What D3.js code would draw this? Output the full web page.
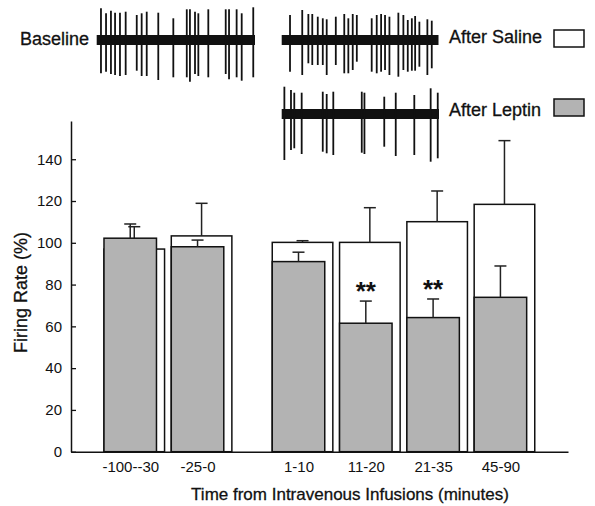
<!DOCTYPE html>
<html><head><meta charset="utf-8">
<script src="https://cdn.jsdelivr.net/npm/d3@7"></script>
<style>
body{margin:0;background:#fff}
svg{display:block}
text{font-family:"Liberation Sans",Arial,Helvetica,sans-serif;fill:#111}
.heavy{stroke:#111;stroke-width:0.3px}
</style>
</head><body>
<svg id="c" width="595" height="506"></svg>
<script>
// ---- data ----
const categories = ["-100--30", "-25-0", "1-10", "11-20", "21-35", "45-90"];
const salineMean = [97.0, 103.3, 100.2, 100.2, 110.1, 118.4];
const salineSem  = [10.7, 15.6, 0.8, 16.6, 14.7, 30.5];
const leptinMean = [102.2, 98.1, 91.0, 61.5, 64.2, 73.9];
const leptinSem  = [6.8, 3.2, 4.5, 10.6, 8.9, 15.0];
const significance = ["", "", "", "**", "**", ""];
const yTicks = [0, 20, 40, 60, 80, 100, 120, 140];

// spike trains: [time (0-100), up amplitude, down amplitude]
const baselineSpikes = [
  [2.7,31.7,33.3],[5.9,26.7,31.7],[9.0,29.3,34],[11.6,27.3,35],[14.7,27.3,36],[18.3,28.3,35],
  [25.3,25,30.7],[28.4,26.7,36],[31.6,28.3,36],[38.9,27.3,40],[48.4,21.7,37.3],[56.9,30.7,37.3],
  [58.9,30.7,41.7],[62.1,28.3,34],[64.2,26.7,36],[70.5,30.7,37.3],[81.5,30.7,34],[83.6,30.7,39.3],
  [88.4,30.7,37.3],[91.6,26.7,40.7],[98.9,32.7,37.3]
];
const salineSpikes = [
  [5.3,25,31.7],[13.1,30,35],[17.0,26,23.3],[19.5,26,25],[23.0,23.3,25],[26.2,21.7,25],
  [28.7,20.7,35],[34.5,23.3,25],[39.9,26,33.3],[42.5,21.7,33.3],[45.3,26,30],[47.9,25,21.7],
  [57.4,21.7,31.7],[60.6,25,33.3],[63.4,26,31.7],[65.9,25,30],[68.7,23.3,35],[74.4,27.3,36.7],
  [77.6,25,30],[80.4,20,31.7],[83.0,21.7,30.7],[85.1,24,30.7],[87.8,18.3,26.7],[92.9,20.7,35],
  [95.7,19.3,28.3]
];
const leptinSpikes = [
  [1.7,27.3,46],[5.9,24,36],[8.0,21.3,34.3],[12.7,21.3,40],[26.1,22.3,37.7],[28.6,20,39.3],
  [32.8,22.3,41],[50.9,22.3,38.7],[52.6,21.3,40],[65.2,17.3,32.7],[72.5,21.3,42],[84.3,19,41],
  [94.7,25.7,47.7],[99.2,21.3,44.3]
];

// ---- drawing ----
const svg = d3.select("#c");
const GRAY = "#b3b3b3";
const slot = i => i + (i >= 2 ? 0.5 : 0);
const x = d3.scaleLinear().domain([-0.49, 6.894]).range([71, 568]);
const y = d3.scaleLinear().domain([0, 158.3]).range([451.7, 121]);
const grayW = 0.78, whiteW = 0.9, capHalf = 6;

const rows = categories.map((c, i) => ({
  c, i, s: slot(i),
  sal: salineMean[i], salE: salineSem[i],
  lep: leptinMean[i], lepE: leptinSem[i],
  sig: significance[i]
}));

const plot = svg.append("g");

// saline bars (behind)
plot.selectAll("rect.sal").data(rows).join("rect")
  .attr("x", d => x(d.s)).attr("width", d => x(d.s + whiteW) - x(d.s))
  .attr("y", d => y(d.sal)).attr("height", d => y(0) - y(d.sal))
  .attr("fill", "#fff").attr("stroke", "#111").attr("stroke-width", 1.5);

function errBars(sel, cls, cx, top, val) {
  const g = sel.selectAll("g." + cls).data(rows).join("g").attr("class", cls);
  g.append("line").attr("x1", cx).attr("x2", cx).attr("y1", d => y(val(d))).attr("y2", d => y(top(d)))
    .attr("stroke", "#222").attr("stroke-width", 1.5);
  g.append("line").attr("x1", d => cx(d) - capHalf).attr("x2", d => cx(d) + capHalf)
    .attr("y1", d => y(top(d))).attr("y2", d => y(top(d)))
    .attr("stroke", "#222").attr("stroke-width", 1.5);
}
errBars(plot, "salErr", d => x(d.s + whiteW / 2), d => d.sal + d.salE, d => d.sal);

// leptin bars (front)
plot.selectAll("rect.lep").data(rows).join("rect")
  .attr("x", d => x(d.s)).attr("width", d => x(d.s + grayW) - x(d.s))
  .attr("y", d => y(d.lep)).attr("height", d => y(0) - y(d.lep))
  .attr("fill", GRAY).attr("stroke", "#111").attr("stroke-width", 1.5);
errBars(plot, "lepErr", d => x(d.s + grayW / 2), d => d.lep + d.lepE, d => d.lep);

// significance stars
plot.selectAll("text.sig").data(rows.filter(d => d.sig)).join("text")
  .attr("x", d => x(d.s + grayW / 2)).attr("y", d => y(d.lep + d.lepE) - 1)
  .attr("text-anchor", "middle").attr("font-size", 26).attr("font-weight", "bold")
  .text(d => d.sig);

// axes
const yAxis = svg.append("g").attr("transform", `translate(${x(-0.49)},0)`)
  .call(d3.axisLeft(y).tickValues(yTicks).tickSizeInner(-5).tickSizeOuter(0).tickPadding(9));
const xAxis = svg.append("g").attr("transform", `translate(0,${y(0)})`)
  .call(d3.axisBottom(x).tickValues(rows.map(d => d.s + grayW / 2))
    .tickFormat((v, k) => categories[k]).tickSize(0).tickPadding(10));
[yAxis, xAxis].forEach(a => {
  a.select(".domain").attr("stroke", "#111").attr("stroke-width", 1.5);
  a.selectAll(".tick line").attr("stroke", "#111").attr("stroke-width", 1.3);
  a.selectAll("text").attr("font-size", 15).attr("fill", "#1a1a1a")
    .attr("font-family", "'Liberation Sans',Arial,sans-serif");
});

svg.append("text").attr("class", "heavy").attr("x", 350).attr("y", 500).attr("text-anchor", "middle")
  .attr("font-size", 17).text("Time from Intravenous Infusions (minutes)");
svg.append("text").attr("class", "heavy").attr("transform", "translate(27,292.5) rotate(-90)")
  .attr("text-anchor", "middle").attr("font-size", 18).text("Firing Rate (%)");

// spike traces
function trace(spikes, x0, x1, cy) {
  const t = d3.scaleLinear().domain([0, 100]).range([x0, x1]);
  const g = svg.append("g");
  g.append("rect").attr("x", t(0)).attr("width", t(100) - t(0))
    .attr("y", cy - 5).attr("height", 10).attr("fill", "#111");
  g.selectAll("line").data(spikes).join("line")
    .attr("x1", d => t(d[0])).attr("x2", d => t(d[0]))
    .attr("y1", d => cy - d[1]).attr("y2", d => cy + d[2])
    .attr("stroke", "#111").attr("stroke-width", 1.8);
}
trace(baselineSpikes, 96.7, 255, 40);
trace(salineSpikes, 281.7, 438.5, 40);
trace(leptinSpikes, 281.7, 439, 114);

// labels & legend
svg.append("text").attr("class", "heavy").attr("x", 20).attr("y", 45).attr("font-size", 18).text("Baseline");
svg.append("text").attr("class", "heavy").attr("x", 449).attr("y", 43).attr("font-size", 18).text("After Saline");
svg.append("text").attr("class", "heavy").attr("x", 449).attr("y", 116).attr("font-size", 18).text("After Leptin");
svg.append("rect").attr("x", 554).attr("y", 30).attr("width", 30).attr("height", 17)
  .attr("fill", "#fff").attr("stroke", "#111").attr("stroke-width", 1.5);
svg.append("rect").attr("x", 554).attr("y", 99).attr("width", 30).attr("height", 17)
  .attr("fill", GRAY).attr("stroke", "#111").attr("stroke-width", 1.5);
</script>
</body></html>
